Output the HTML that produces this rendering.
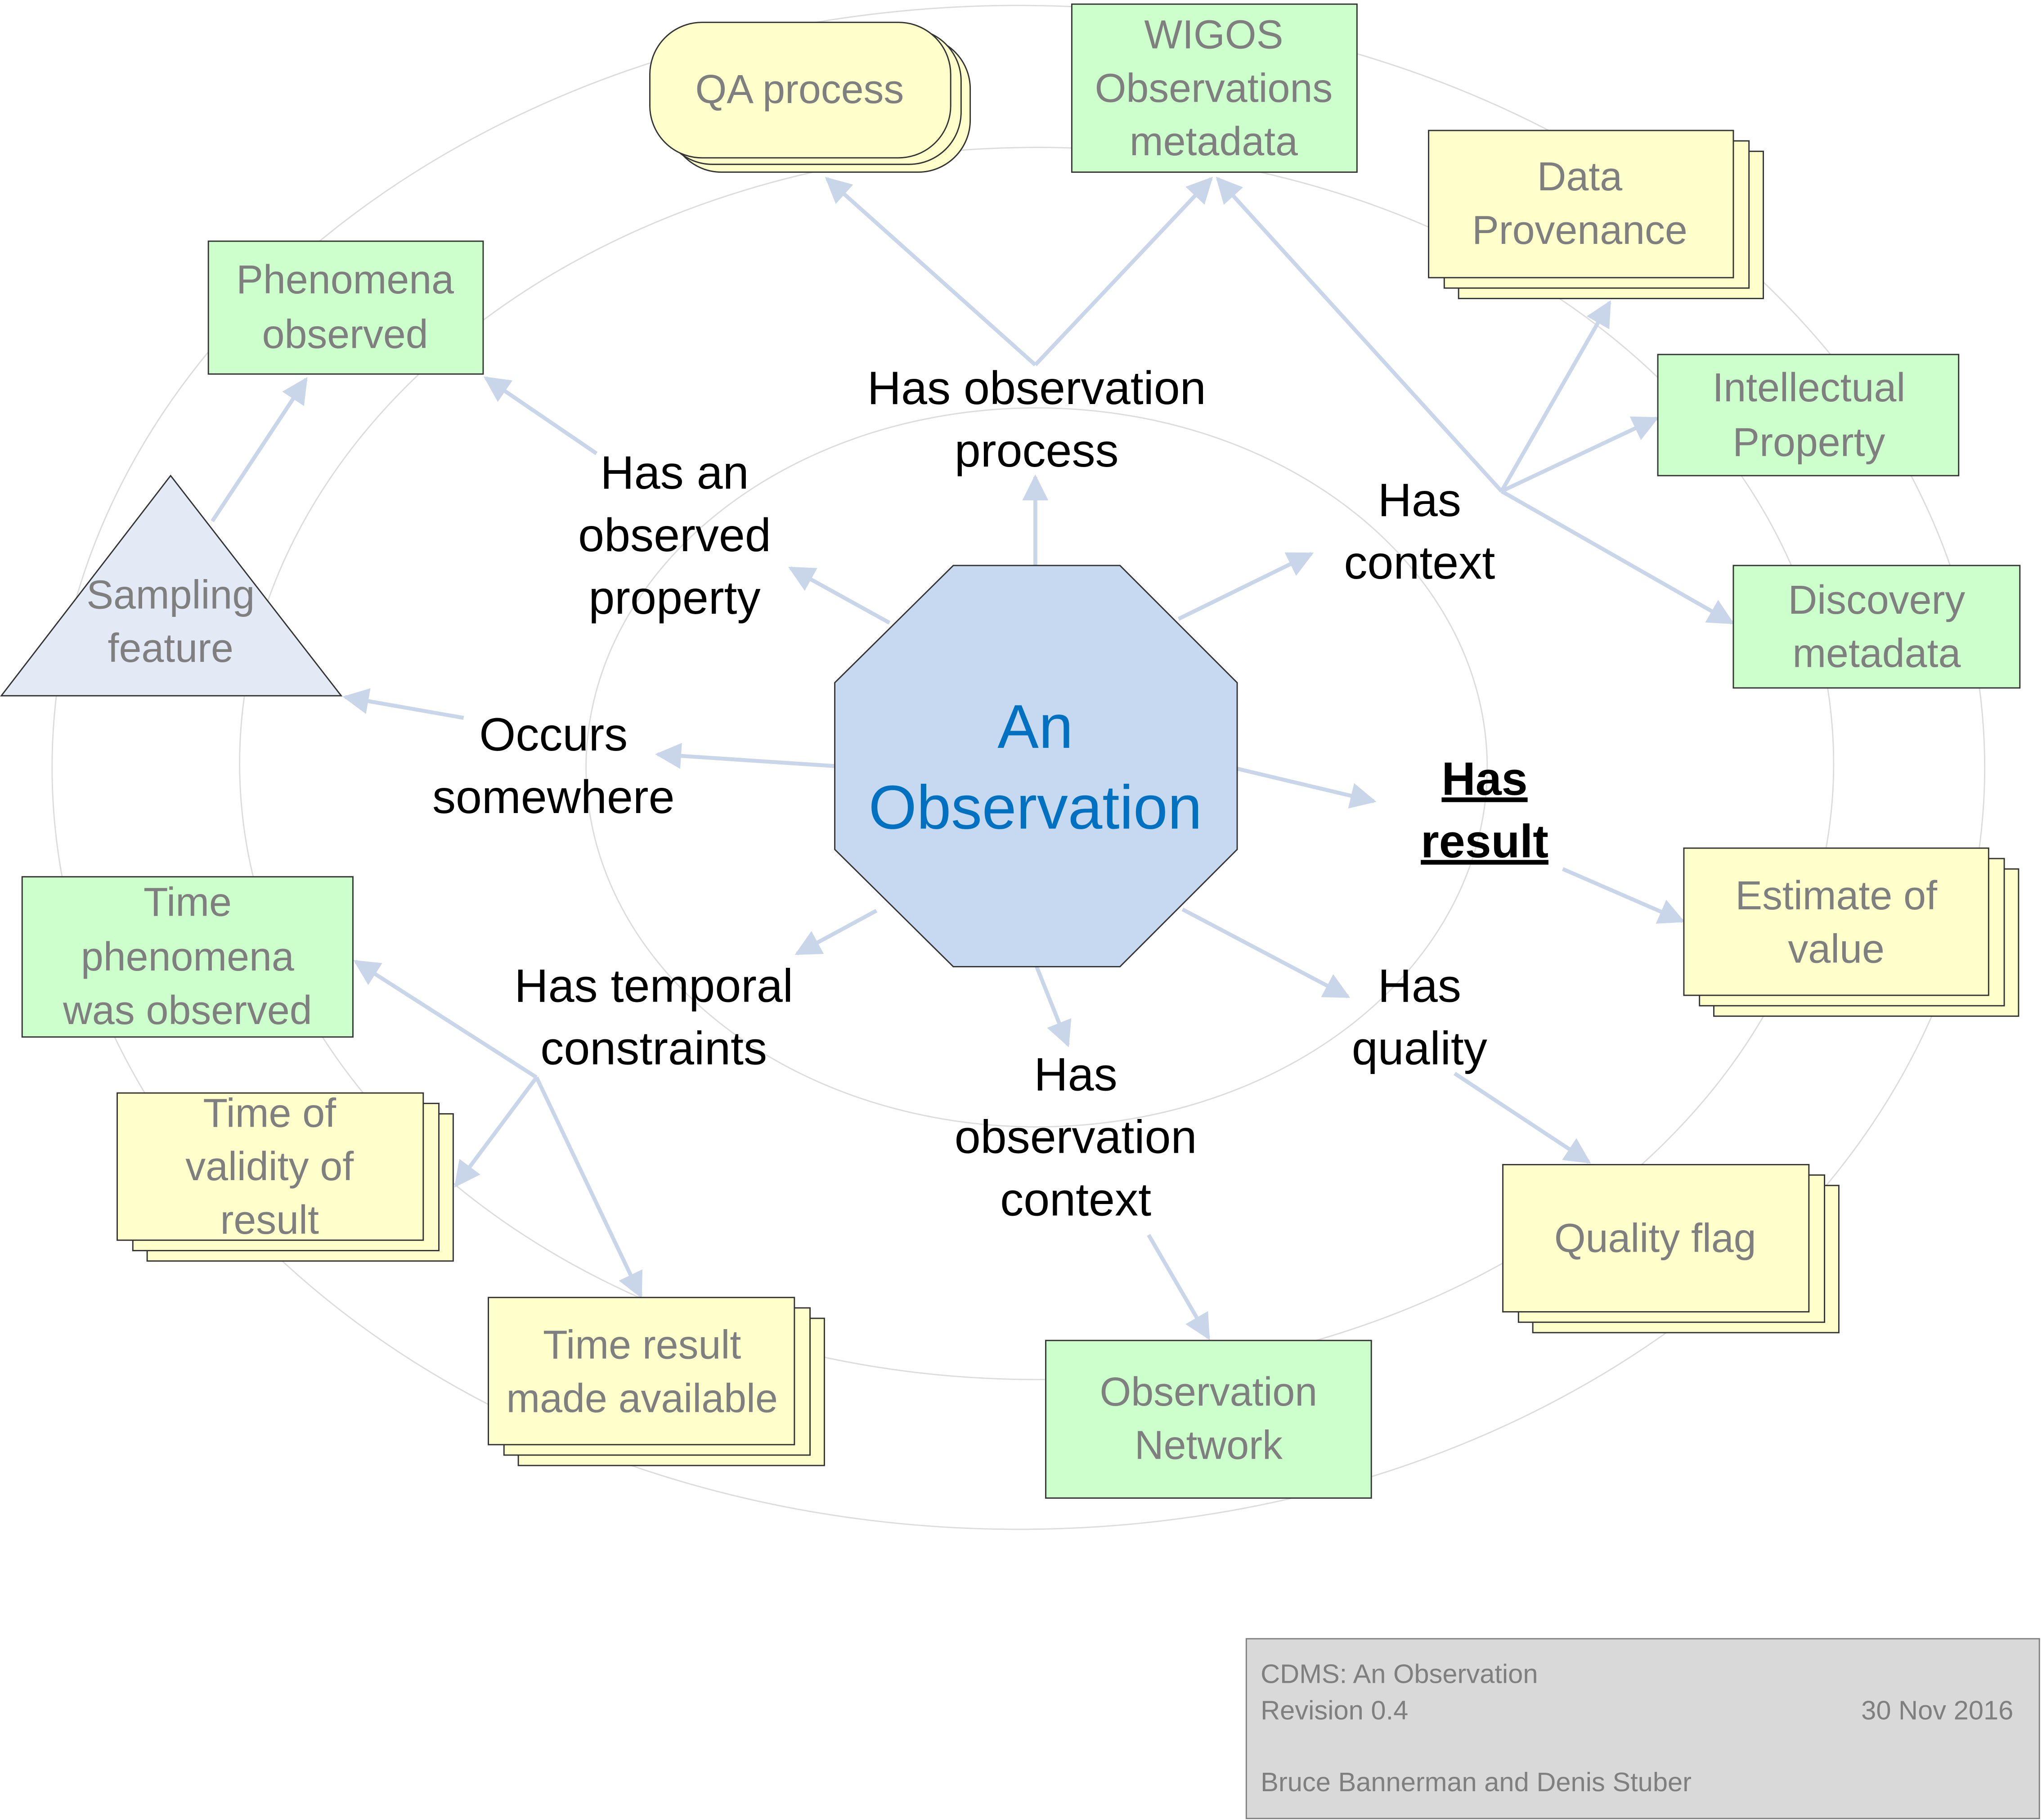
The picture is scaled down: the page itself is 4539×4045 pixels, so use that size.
<!DOCTYPE html>
<html><head><meta charset="utf-8"><style>
html,body{margin:0;padding:0;background:#fff;}
svg{display:block;}
text{font-family:"Liberation Sans",sans-serif;}
</style></head><body>
<svg width="4539" height="4045" viewBox="0 0 1568 1397" xmlns="http://www.w3.org/2000/svg">
<defs>
<marker id="b" viewBox="0 0 10 10" refX="9" refY="5" markerWidth="26" markerHeight="20" markerUnits="userSpaceOnUse" orient="auto">
<path d="M0,0 L10,5 L0,10 z" fill="#c9d5e8"/></marker>
</defs>
<g fill="none" stroke="#dcdcdc" stroke-width="1">
<ellipse cx="782" cy="589" rx="742" ry="585"/>
<ellipse cx="796" cy="586" rx="612" ry="473"/>
<ellipse cx="796" cy="589" rx="346" ry="276"/>
</g>
<g stroke="#c9d5e8" stroke-width="3" fill="none" marker-end="url(#b)">
<line x1="795" y1="434" x2="795" y2="366"/>
<line x1="795" y1="280" x2="635" y2="137"/>
<line x1="795" y1="280" x2="930" y2="137"/>
<line x1="683" y1="478" x2="607" y2="436"/>
<line x1="458" y1="348" x2="373" y2="290"/>
<line x1="163" y1="400" x2="235" y2="291"/>
<line x1="356" y1="551" x2="265" y2="535"/>
<line x1="641" y1="588" x2="505" y2="579"/>
<line x1="905" y1="475" x2="1007" y2="425"/>
<line x1="1153" y1="377" x2="935" y2="137"/>
<line x1="1153" y1="377" x2="1236" y2="232"/>
<line x1="1153" y1="377" x2="1272" y2="321"/>
<line x1="1153" y1="377" x2="1330" y2="478"/>
<line x1="950" y1="590" x2="1055" y2="615"/>
<line x1="1200" y1="667" x2="1292" y2="707"/>
<line x1="908" y1="698" x2="1035" y2="765"/>
<line x1="1117" y1="824" x2="1220" y2="892"/>
<line x1="796" y1="742" x2="820" y2="802"/>
<line x1="882" y1="948" x2="928" y2="1027"/>
<line x1="673" y1="699" x2="612" y2="732"/>
<line x1="412" y1="827" x2="273" y2="738"/>
<line x1="412" y1="827" x2="350" y2="910"/>
<line x1="412" y1="827" x2="492" y2="995"/>
</g>
<g stroke="#333" stroke-width="1">
<polygon points="732,434 860,434 950,524 950,652 860,742 732,742 641,652 641,524" fill="#c6d9f1"/>
<polygon points="131,365 1,534 262,534" fill="#e4eaf5"/>
<g fill="#ccffcc">
<rect x="823" y="3" width="219" height="129"/>
<rect x="160" y="185" width="211" height="102"/>
<rect x="1273" y="272" width="231" height="93"/>
<rect x="1331" y="434" width="220" height="94"/>
<rect x="17" y="673" width="254" height="123"/>
<rect x="803" y="1029" width="250" height="121"/>
</g>
<g fill="#ffffcc">
<rect x="1120" y="116" width="234" height="113"/><rect x="1109" y="108" width="234" height="113"/><rect x="1097" y="100" width="234" height="113"/>
<rect x="1316" y="667" width="234" height="113"/><rect x="1305" y="659" width="234" height="113"/><rect x="1293" y="651" width="234" height="113"/>
<rect x="1177" y="910" width="235" height="113"/><rect x="1166" y="902" width="235" height="113"/><rect x="1154" y="894" width="235" height="113"/>
<rect x="113" y="855" width="235" height="113"/><rect x="102" y="847" width="235" height="113"/><rect x="90" y="839" width="235" height="113"/>
<rect x="398" y="1012" width="235" height="113"/><rect x="387" y="1004" width="235" height="113"/><rect x="375" y="996" width="235" height="113"/>
<rect x="514" y="28" width="231" height="104" rx="40"/><rect x="507" y="22" width="231" height="104" rx="40"/><rect x="499" y="17" width="231" height="104" rx="40"/>
</g>
<rect x="957" y="1258" width="609" height="138" fill="#d9d9d9" stroke="#7f7f7f"/>
</g>
<g fill="#7f7f7f" font-size="31" text-anchor="middle">
<text x="932" y="37">WIGOS</text><text x="932" y="78">Observations</text><text x="932" y="119">metadata</text>
<text x="614" y="79">QA process</text>
<text x="265" y="225">Phenomena</text><text x="265" y="267">observed</text>
<text x="1213" y="146">Data</text><text x="1213" y="187">Provenance</text>
<text x="1389" y="308">Intellectual</text><text x="1389" y="350">Property</text>
<text x="1441" y="471">Discovery</text><text x="1441" y="512">metadata</text>
<text x="131" y="467">Sampling</text><text x="131" y="508">feature</text>
<text x="1410" y="698">Estimate of</text><text x="1410" y="739">value</text>
<text x="1271" y="961">Quality flag</text>
<text x="144" y="703">Time</text><text x="144" y="745">phenomena</text><text x="144" y="786">was observed</text>
<text x="207" y="865">Time of</text><text x="207" y="906">validity of</text><text x="207" y="947">result</text>
<text x="493" y="1043">Time result</text><text x="493" y="1084">made available</text>
<text x="928" y="1079">Observation</text><text x="928" y="1120">Network</text>
</g>
<g fill="#0070c0" font-size="47.5" text-anchor="middle">
<text x="795" y="574">An</text><text x="795" y="636">Observation</text>
</g>
<g fill="#000" font-size="36" text-anchor="middle">
<text x="796" y="310">Has observation</text><text x="796" y="358">process</text>
<text x="518" y="375">Has an</text><text x="518" y="423">observed</text><text x="518" y="471">property</text>
<text x="1090" y="396">Has</text><text x="1090" y="444">context</text>
<text x="425" y="576">Occurs</text><text x="425" y="624">somewhere</text>
<text x="1140" y="610" font-weight="bold" text-decoration="underline">Has</text>
<text x="1140" y="658" font-weight="bold" text-decoration="underline">result</text>
<text x="502" y="769">Has temporal</text><text x="502" y="817">constraints</text>
<text x="1090" y="769">Has</text><text x="1090" y="817">quality</text>
<text x="826" y="837">Has</text><text x="826" y="885">observation</text><text x="826" y="933">context</text>
</g>
<g fill="#7f7f7f" font-size="20.6">
<text x="968" y="1292">CDMS: An Observation</text>
<text x="968" y="1320">Revision 0.4</text>
<text x="1546" y="1320" text-anchor="end">30 Nov 2016</text>
<text x="968" y="1375">Bruce Bannerman and Denis Stuber</text>
</g>
</svg>
</body></html>
